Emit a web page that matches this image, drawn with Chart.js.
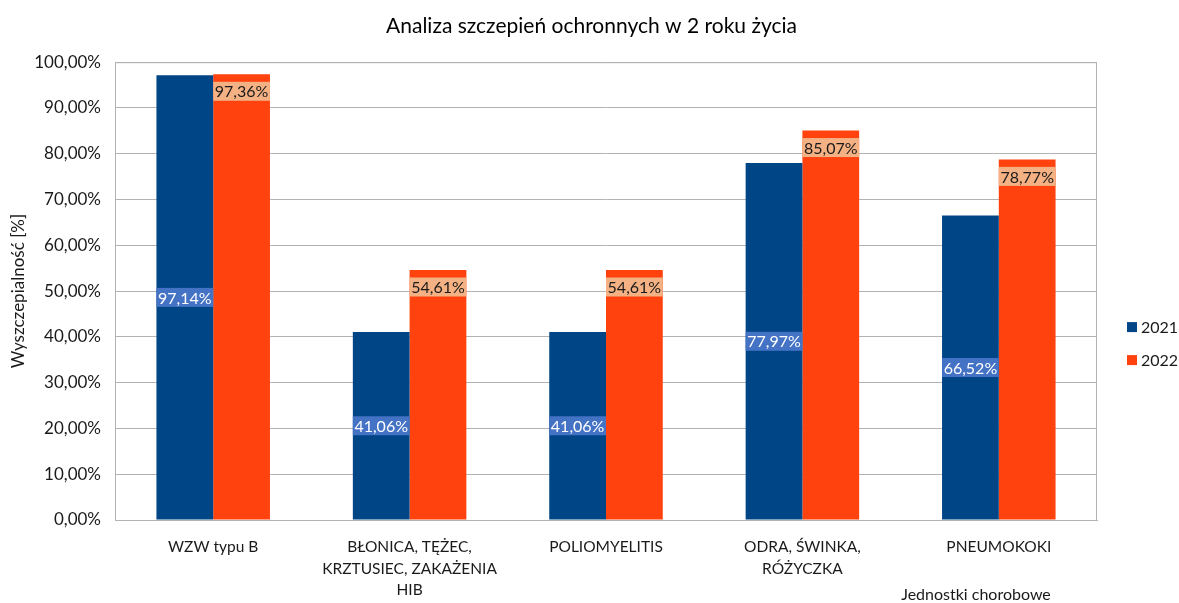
<!DOCTYPE html>
<html>
<head>
<meta charset="utf-8">
<script src="https://cdn.jsdelivr.net/npm/chart.js@4.4.1/dist/chart.umd.min.js"></script>
<style>
  html, body { margin: 0; padding: 0; background: #fff; }
  #wrap { width: 1179px; height: 603px; }
</style>
</head>
<body>
<div id="wrap"><canvas id="wykres" width="1179" height="603"></canvas></div>
<script>
const kategorie = [
  "WZW typu B",
  ["BŁONICA, TĘŻEC,", "KRZTUSIEC, ZAKAŻENIA", "HIB"],
  "POLIOMYELITIS",
  ["ODRA, ŚWINKA,", "RÓŻYCZKA"],
  "PNEUMOKOKI",
];
const lata = ["2021", "2022"];
const wartosci2021 = [97.14, 41.06, 41.06, 77.97, 66.52];
const wartosci2022 = [97.36, 54.61, 54.61, 85.07, 78.77];
const tickiY = [0, 10, 20, 30, 40, 50, 60, 70, 80, 90, 100];

const FONT = "Lato, 'Liberation Sans', sans-serif";
const formatProc = (v) => v.toFixed(2).replace(".", ",") + "%";

// etykiety slupkow, legenda i tytul osi X
const dodatki = {
  id: "dodatki",
  afterDatasetsDraw(chart) {
    const ctx = chart.ctx;
    const area = chart.chartArea;
    ctx.save();
    // ramka obszaru wykresu
    ctx.strokeStyle = "#b3b3b3";
    ctx.lineWidth = 1;
    ctx.strokeRect(area.left + 0.5, area.top + 0.5, area.right - area.left - 1, area.bottom - area.top);

    ctx.font = "16px " + FONT;
    ctx.textAlign = "center";
    ctx.textBaseline = "middle";
    chart.data.datasets.forEach((ds, i) => {
      const meta = chart.getDatasetMeta(i);
      meta.data.forEach((bar, j) => {
        const w = bar.width;
        let cy;
        if (i === 0) {
          cy = (bar.y + bar.base) / 2;
          ctx.fillStyle = "#4472c4";
        } else {
          cy = bar.y + 17;
          ctx.fillStyle = "#f4b183";
        }
        ctx.fillRect(bar.x - w / 2, cy - 9.5, w, 19);
        ctx.fillStyle = i === 0 ? "#ffffff" : "#1a1a1a";
        ctx.fillText(formatProc(ds.data[j]), bar.x, cy + 1);
      });
    });

    // legenda
    const lx = area.right + 30;
    const ly = (area.top + area.bottom) / 2 + 36;
    chart.data.datasets.forEach((ds, i) => {
      const y = ly + i * 33;
      ctx.fillStyle = ds.backgroundColor;
      ctx.fillRect(lx, y - 5, 10, 10);
      ctx.fillStyle = "#1a1a1a";
      ctx.textAlign = "left";
      ctx.font = "16px " + FONT;
      ctx.fillText(ds.label, lx + 14, y + 1);
    });

    // tytul osi X
    ctx.font = "16px " + FONT;
    ctx.textAlign = "center";
    ctx.fillStyle = "#1a1a1a";
    ctx.fillText("Jednostki chorobowe", area.right - 121, chart.height - 8);
    ctx.restore();
  },
};

const canvas = document.getElementById("wykres");
const ctx = canvas.getContext("2d");

window.myChart = new Chart(ctx, {
  type: "bar",
  data: {
    labels: kategorie,
    datasets: [
      {
        label: lata[0],
        data: wartosci2021,
        backgroundColor: "#004586",
        barPercentage: 1,
        categoryPercentage: 0.578,
      },
      {
        label: lata[1],
        data: wartosci2022,
        backgroundColor: "#ff420e",
        barPercentage: 1,
        categoryPercentage: 0.578,
      },
    ],
  },
  options: {
    responsive: false,
    animation: false,
    layout: {
      padding: { left: 4, right: 0, top: 0, bottom: 0 },
    },
    plugins: {
      legend: { display: false },
      tooltip: { enabled: false },
      title: {
        display: true,
        text: "Analiza szczepień ochronnych w 2 roku życia",
        color: "#000000",
        font: { family: FONT, size: 21, weight: "normal" },
        padding: { top: 14, bottom: 23 },
      },
    },
    scales: {
      x: {
        grid: { display: false, drawTicks: false },
        border: { display: true, color: "#b3b3b3" },
        ticks: {
          color: "#1a1a1a",
          font: { family: FONT, size: 15.5, lineHeight: 1.4 },
          padding: 16,
          maxRotation: 0,
          autoSkip: false,
        },
        afterFit(scale) {
          scale.height = 83;
        },
      },
      y: {
        min: 0,
        max: 100,
        afterBuildTicks(scale) {
          scale.ticks = tickiY.map((v) => ({ value: v }));
        },
        grid: { color: "#b3b3b3", drawTicks: false },
        border: { display: true, color: "#b3b3b3" },
        ticks: {
          color: "#1a1a1a",
          font: { family: FONT, size: 17 },
          padding: 14,
          callback: (v) => formatProc(v),
        },
        title: {
          display: true,
          text: "Wyszczepialność [%]",
          color: "#1a1a1a",
          font: { family: FONT, size: 17 },
          padding: { top: 4, bottom: 4 },
        },
        afterFit(scale) {
          scale.width = 111;
        },
      },
      // miejsce na legende po prawej
      prawa: {
        type: "linear",
        position: "right",
        display: true,
        grid: { display: false, drawTicks: false },
        border: { display: false },
        ticks: { display: false },
        afterFit(scale) {
          scale.width = 82;
        },
      },
    },
  },
  plugins: [dodatki],
});
</script>
</body>
</html>
